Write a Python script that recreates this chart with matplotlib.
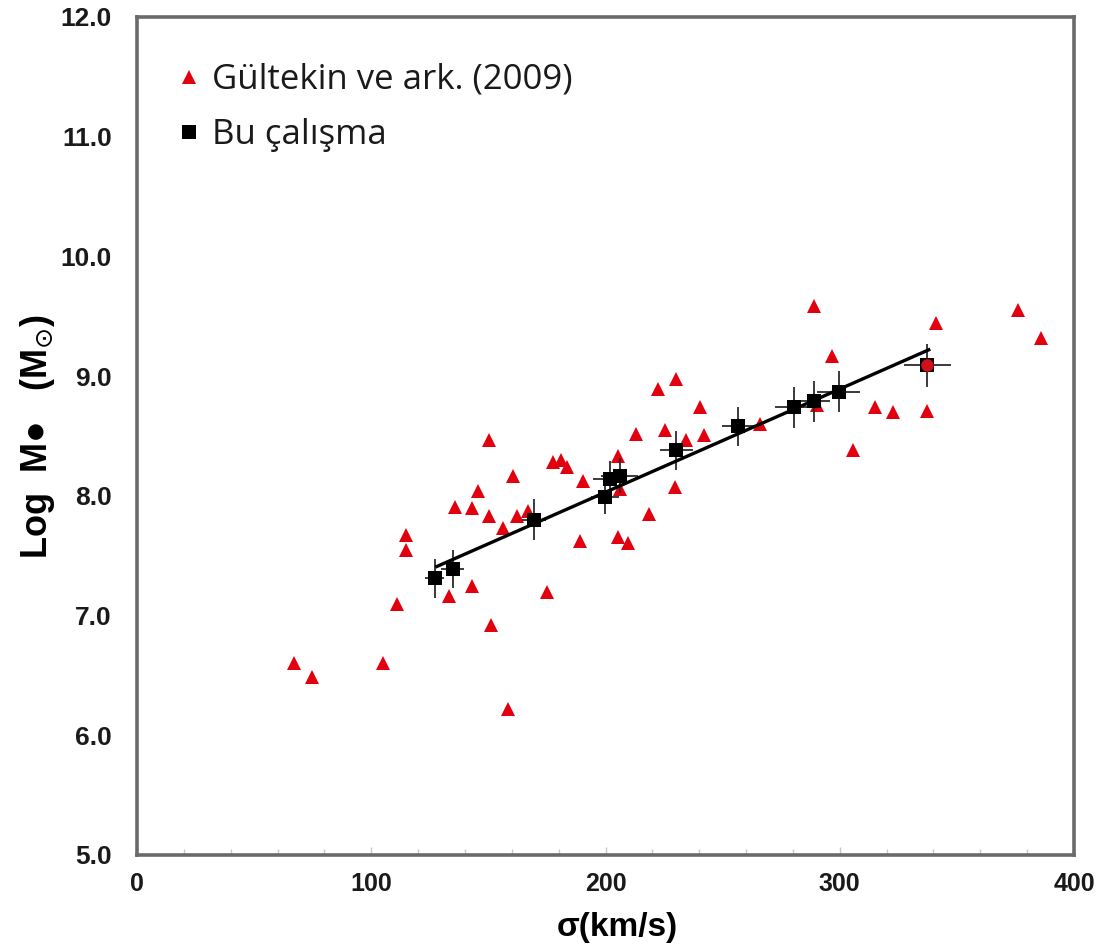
import matplotlib
matplotlib.use("Agg")
import matplotlib.pyplot as plt
from matplotlib.ticker import MultipleLocator

# ---- data ----
gultekin_sigma = [66.9, 74.5, 105.0, 111.0, 114.7, 114.7, 133.3, 135.8, 142.8, 143.0,
                  145.4, 150.1, 150.1, 151.1, 156.1, 158.3, 160.4, 162.1, 166.8, 175.2,
                  177.5, 181.1, 183.6, 189.3, 190.4, 205.3, 205.3, 206.0, 209.6, 213.2,
                  218.5, 222.2, 225.6, 229.6, 230.3, 234.3, 240.3, 242.2, 266.0, 288.8,
                  290.2, 296.7, 305.5, 315.2, 322.6, 337.3, 340.9, 375.9, 385.8]
gultekin_logM = [6.60, 6.49, 6.60, 7.10, 7.67, 7.55, 7.16, 7.91, 7.25, 7.90,
                 8.04, 8.47, 7.83, 6.92, 7.73, 6.22, 8.17, 7.83, 7.87, 7.20,
                 8.28, 8.30, 8.24, 7.62, 8.12, 8.33, 7.66, 8.06, 7.61, 8.52,
                 7.85, 8.89, 8.55, 8.07, 8.98, 8.47, 8.74, 8.51, 8.60, 9.59,
                 8.76, 9.17, 8.38, 8.74, 8.70, 8.71, 9.44, 9.55, 9.32]

this_sigma = [127.1, 134.7, 169.4, 199.6, 201.8, 206.0, 230.3, 256.7, 280.5, 288.8, 299.5, 337.3]
this_logM = [7.31, 7.39, 7.80, 7.99, 8.14, 8.17, 8.38, 8.58, 8.74, 8.79, 8.87, 9.09]
this_sigma_err = [4, 5, 5, 6, 7, 8, 7, 7, 8, 7, 9, 10]
this_logM_err = [0.16, 0.16, 0.17, 0.14, 0.15, 0.15, 0.16, 0.16, 0.17, 0.17, 0.17, 0.18]

# overlapping Gültekin point drawn on top of the last black point
overlap_sigma = [337.3]
overlap_logM = [9.09]

fit_sigma = [128.0, 338.0]
fit_logM = [7.41, 9.22]

x_ticks = [0, 100, 200, 300, 400]
y_ticks = [5.0, 6.0, 7.0, 8.0, 9.0, 10.0, 11.0, 12.0]

label_g = "Gültekin ve ark. (2009)"
label_b = "Bu çalışma"

# ---- figure ----
fig = plt.figure(figsize=(11.05, 9.44), dpi=100)
ax = fig.add_axes([137 / 1105, 1 - 855 / 944, (1074 - 137) / 1105, (855 - 17) / 944])

red = "#e2000f"
h_g, = ax.plot(gultekin_sigma, gultekin_logM, linestyle="none", marker="^",
               markersize=10, color=red, markeredgewidth=0, zorder=3, label=label_g)
ax.errorbar(this_sigma, this_logM, xerr=this_sigma_err, yerr=this_logM_err,
            fmt="none", ecolor="#2b2b2b", elinewidth=1.3, capsize=0, zorder=4)
ax.plot(fit_sigma, fit_logM, color="black", linewidth=2.4, zorder=5)
h_b, = ax.plot(this_sigma, this_logM, linestyle="none", marker="s", markersize=9.5,
               color="black", markeredgewidth=0, zorder=6, label=label_b)
ax.plot(overlap_sigma, overlap_logM, linestyle="none", marker="o", markersize=9,
        color="#d0101a", markeredgewidth=0, zorder=7)

ax.set_xlim(0, 400)
ax.set_ylim(5.0, 12.0)
ax.set_xticks(x_ticks)
ax.set_xticklabels([str(v) for v in x_ticks])
ax.set_yticks(y_ticks)
ax.set_yticklabels([f"{v:.1f}" for v in y_ticks])
ax.xaxis.set_minor_locator(MultipleLocator(20))

for s in ax.spines.values():
    s.set_color("#6a6a6a")
    s.set_linewidth(2.6)

ax.tick_params(axis="x", which="major", direction="in", length=6, width=1, color="#c8c8c8",
               pad=12, labelsize=18)
ax.tick_params(axis="x", which="minor", direction="in", length=4, width=1, color="#c8c8c8")
ax.tick_params(axis="y", which="major", length=0, pad=18, labelsize=19)
for lab in ax.get_xticklabels() + ax.get_yticklabels():
    lab.set_fontfamily("Liberation Sans")
    lab.set_fontweight("bold")
    lab.set_color("#1a1a1a")

ax.set_xlabel("σ(km/s)", fontsize=24, fontweight="bold",
              family=["Liberation Sans", "DejaVu Sans"])
ax.xaxis.set_label_coords(0.513, -0.068)
ax.set_ylabel("Log  M●   (M$_{\\odot}$)", fontsize=26, fontweight="bold",
              family=["Liberation Sans", "DejaVu Sans"])
ax.yaxis.set_label_coords(-0.085, 0.5)

leg = ax.legend(handles=[h_g, h_b], loc="upper left", bbox_to_anchor=(0.03, 0.962),
                frameon=False, handlelength=0.6, handletextpad=0.35, labelspacing=0.62,
                prop={"family": "Open Sans", "size": 25}, borderaxespad=0)
for t in leg.get_texts():
    t.set_color("#1a1a1a")

fig.savefig("out.png", dpi=100)
